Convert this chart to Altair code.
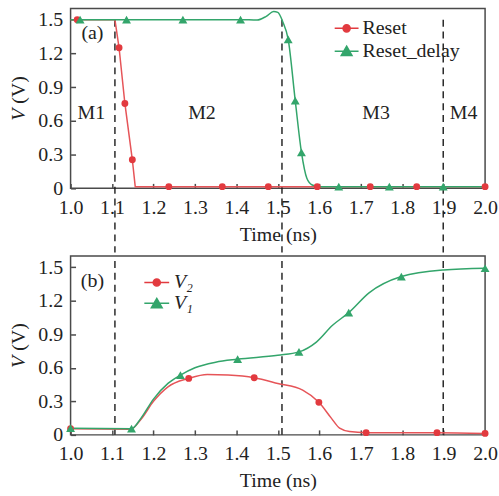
import altair as alt
import pandas as pd

RED = "#e23a3f"
RED_LINE = "#e65458"
GREEN = "#33a56b"
FRAME = "#4a4a4a"
INK = "#222222"
FONT = "Liberation Serif"

W, H_A, H_B = 417, 181, 180
Y_DOMAIN = [0, 1.6]

x_ticks = [1.0, 1.1, 1.2, 1.3, 1.4, 1.5, 1.6, 1.7, 1.8, 1.9, 2.0]
y_ticks = [0, 0.3, 0.6, 0.9, 1.2, 1.5]

# ---- panel (a): Reset and Reset_delay ----
reset_name, delay_name = "Reset", "Reset_delay"
reset_line_t = [1.0, 1.016, 1.107, 1.117, 1.131, 1.149, 1.156, 1.237, 1.366, 1.477, 1.595, 1.723, 1.835, 2.0]
reset_line_v = [1.5, 1.5, 1.5, 1.25, 0.755, 0.254, 0.015, 0.015, 0.015, 0.015, 0.015, 0.015, 0.015, 0.015]
reset_mark_t = [1.016, 1.117, 1.131, 1.149, 1.237, 1.366, 1.477, 1.595, 1.723, 1.835, 2.0]
reset_mark_v = [1.5, 1.25, 0.755, 0.254, 0.015, 0.015, 0.015, 0.015, 0.015, 0.015, 0.015]

delay_line_t = [1.0, 1.023, 1.135, 1.271, 1.41, 1.45, 1.472, 1.49, 1.5, 1.512, 1.525, 1.542, 1.557,
                1.57, 1.583, 1.6, 1.647, 1.769, 1.899, 2.0]
delay_line_v = [1.5, 1.5, 1.5, 1.5, 1.5, 1.497, 1.53, 1.572, 1.565, 1.48, 1.325, 0.78, 0.32,
                0.09, 0.03, 0.015, 0.015, 0.015, 0.015, 0.015]
delay_mark_t = [1.023, 1.135, 1.271, 1.41, 1.525, 1.542, 1.557, 1.647, 1.769, 1.899]
delay_mark_v = [1.5, 1.5, 1.5, 1.5, 1.325, 0.78, 0.32, 0.015, 0.015, 0.015]

# ---- panel (b): V2 and V1 ----
v2_name, v1_name = "V\u2082", "V\u2081"
v2_line_t = [1.0, 1.145, 1.17, 1.2, 1.235, 1.285, 1.33, 1.38, 1.443, 1.5, 1.56, 1.599, 1.629, 1.649,
             1.673, 1.713, 1.884, 2.0]
v2_line_v = [0.055, 0.05, 0.14, 0.3, 0.43, 0.505, 0.54, 0.535, 0.511, 0.46, 0.40, 0.291, 0.15, 0.06,
             0.03, 0.02, 0.02, 0.013]
v2_mark_t = [1.0, 1.285, 1.443, 1.599, 1.713, 1.884, 2.0]
v2_mark_v = [0.055, 0.505, 0.511, 0.291, 0.02, 0.02, 0.013]

v1_line_t = [1.0, 1.147, 1.17, 1.2, 1.235, 1.265, 1.3, 1.35, 1.403, 1.5, 1.551, 1.593, 1.632, 1.671,
             1.72, 1.798, 1.9, 2.0]
v1_line_v = [0.06, 0.055, 0.15, 0.32, 0.46, 0.534, 0.6, 0.65, 0.677, 0.712, 0.742, 0.83, 0.98, 1.093,
             1.27, 1.416, 1.475, 1.49]
v1_mark_t = [1.0, 1.147, 1.265, 1.403, 1.551, 1.671, 1.798, 2.0]
v1_mark_v = [0.06, 0.055, 0.534, 0.677, 0.742, 1.093, 1.416, 1.49]

# mode boundaries and region labels
boundary_t = [1.107, 1.51, 1.899]
region_names = ["M1", "M2", "M3", "M4"]
region_t = [1.05, 1.317, 1.737, 1.948]
region_v = 0.67


def xscale():
    return alt.Scale(domain=[1.0, 2.0], nice=False, zero=False)


def yscale():
    return alt.Scale(domain=Y_DOMAIN, nice=False, zero=False)


def df(t, v):
    return pd.DataFrame({"t": t, "v": v})


def line_layer(t, v, color, interp):
    return alt.Chart(df(t, v)).mark_line(color=color, strokeWidth=1.5, interpolate=interp).encode(
        x=alt.X("t:Q", scale=xscale(), axis=None),
        y=alt.Y("v:Q", scale=yscale(), axis=None),
    )


def mark_layer(t, v, color, shape, size):
    return alt.Chart(df(t, v)).mark_point(color=color, filled=True, opacity=1, shape=shape, size=size).encode(
        x=alt.X("t:Q", scale=xscale(), axis=None),
        y=alt.Y("v:Q", scale=yscale(), axis=None),
    )


def axes_layer():
    # labelled axes (no ticks) plus inward-pointing tick axes
    base = alt.Chart(df([1.0], [0.0])).mark_point(opacity=0)
    labelled = base.encode(
        x=alt.X("t:Q", scale=xscale(), axis=alt.Axis(
            values=x_ticks, format=".1f", ticks=False, domain=False, grid=False,
            labelFlush=False, labelOverlap=False,
            title="Time (ns)", labelPadding=9, titlePadding=7)),
        y=alt.Y("v:Q", scale=yscale(), axis=alt.Axis(
            values=y_ticks, labelExpr="datum.value == 0 ? '0' : format(datum.value, '.1f')",
            labelFlush=False, labelOverlap=False,
            ticks=False, domain=False, grid=False, title=None, labelPadding=8)),
    )
    ticks = base.encode(
        x=alt.X("t:Q", scale=xscale(), axis=alt.Axis(
            orient="bottom", values=x_ticks, labels=False, domain=False, grid=False, ticks=True,
            tickSize=5, tickWidth=1.5, tickColor=FRAME, offset=-5, title=None)),
        y=alt.Y("v:Q", scale=yscale(), axis=alt.Axis(
            orient="left", values=y_ticks, labels=False, domain=False, grid=False, ticks=True,
            tickSize=5, tickWidth=1.5, tickColor=FRAME, offset=-5, title=None)),
    )
    return labelled, ticks


def boundary_layer(y_from, y_to):
    return alt.Chart(pd.DataFrame({"t": boundary_t})).mark_rule(
        color="#1a1a1a", strokeWidth=1.4, strokeDash=[7, 5]).encode(
        x=alt.X("t:Q", scale=xscale(), axis=None),
        y=alt.YDatum(y_from, scale=yscale(), axis=None),
        y2=alt.Y2Datum(y_to),
    )


def legend_layer(key, names, colors, paths, size, lx, ly, offset, italic):
    lg = alt.Legend(
        orient="none", legendX=lx, legendY=ly, title=None, padding=0, rowPadding=0,
        symbolSize=size, symbolStrokeWidth=1.5, symbolOpacity=1, labelOffset=offset,
        labelFont=FONT, labelFontSize=20, labelColor=INK, labelLimit=300,
        labelFontStyle="italic" if italic else "normal",
    )
    return alt.Chart(pd.DataFrame({key: names})).mark_point(opacity=0).encode(
        fill=alt.Fill(f"{key}:N", scale=alt.Scale(domain=names, range=colors), legend=lg),
        stroke=alt.Stroke(f"{key}:N", scale=alt.Scale(domain=names, range=colors), legend=lg),
        shape=alt.Shape(f"{key}:N", scale=alt.Scale(domain=names, range=paths), legend=lg),
    )


def ytitle_layers(height):
    mid = height / 2
    v_txt = alt.Chart(pd.DataFrame({"s": ["V"]})).mark_text(
        font=FONT, fontSize=20, fontStyle="italic", angle=270, align="center", baseline="middle",
        color=INK).encode(text="s:N", x=alt.value(-52), y=alt.value(mid + 16.5))
    unit_txt = alt.Chart(pd.DataFrame({"s": ["(V)"]})).mark_text(
        font=FONT, fontSize=20, angle=270, align="center", baseline="middle",
        color=INK).encode(text="s:N", x=alt.value(-52), y=alt.value(mid - 8.5))
    return v_txt, unit_txt


def tag_layer(tag):
    return alt.Chart(pd.DataFrame({"s": [tag]})).mark_text(
        font=FONT, fontSize=20, align="center", baseline="middle", color=INK).encode(
        text="s:N", x=alt.value(22), y=alt.value(25))


# ---------- panel (a) ----------
lab_a, tick_a = axes_layer()
yv_a, yu_a = ytitle_layers(H_A)
regions = alt.Chart(pd.DataFrame({"t": region_t, "name": region_names})).mark_text(
    font=FONT, fontSize=20, align="center", baseline="middle", color=INK).encode(
    x=alt.X("t:Q", scale=xscale(), axis=None),
    y=alt.YDatum(region_v, scale=yscale(), axis=None),
    text="name:N",
)

circle_path_a = "M-1,0H1M-0.3,0A0.3,0.3,0,1,1,0.3,0A0.3,0.3,0,1,1,-0.3,0Z"
tri_path_a = "M-1,0H1M0,-0.42L0.45,0.36L-0.45,0.36Z"

panel_a = alt.layer(
    lab_a, tick_a,
    boundary_layer(1.5, -0.57),
    line_layer(reset_line_t, reset_line_v, RED_LINE, "linear"),
    line_layer(delay_line_t, delay_line_v, GREEN, "monotone"),
    mark_layer(reset_mark_t, reset_mark_v, RED, "circle", 48),
    mark_layer(delay_mark_t, delay_mark_v, GREEN, "triangle-up", 80),
    regions, tag_layer("(a)"), yv_a, yu_a,
    legend_layer("key_a", [reset_name, delay_name], [RED, GREEN], [circle_path_a, tri_path_a],
                 576, 264.7, 7, 3, False),
).resolve_axis(x="independent", y="independent").properties(width=W, height=H_A)

# ---------- panel (b) ----------
lab_b, tick_b = axes_layer()
yv_b, yu_b = ytitle_layers(H_B)

circle_path_b = "M-1.25,0H1.25M-0.36,0A0.36,0.36,0,1,1,0.36,0A0.36,0.36,0,1,1,-0.36,0Z"
tri_path_b = "M-1.25,0H1.25M0,-0.5L0.54,0.43L-0.54,0.43Z"

panel_b = alt.layer(
    lab_b, tick_b,
    boundary_layer(0, 1.6),
    line_layer(v2_line_t, v2_line_v, RED_LINE, "monotone"),
    line_layer(v1_line_t, v1_line_v, GREEN, "monotone"),
    mark_layer(v2_mark_t, v2_mark_v, RED, "circle", 48),
    mark_layer(v1_mark_t, v1_mark_v, GREEN, "triangle-up", 80),
    tag_layer("(b)"), yv_b, yu_b,
    legend_layer("key_b", [v2_name, v1_name], [RED, GREEN], [circle_path_b, tri_path_b],
                 400, 75.7, 15.7, 6.3, True),
).resolve_axis(x="independent", y="independent").properties(width=W, height=H_B)

chart = alt.vconcat(panel_a, panel_b, spacing=0).resolve_scale(
    fill="independent", stroke="independent", shape="independent"
).properties(
    padding={"left": 8, "top": 6, "right": 0, "bottom": 2},
    background="white",
).configure_view(
    stroke=FRAME, strokeWidth=1.5
).configure_axis(
    labelFont=FONT, labelFontSize=20, labelColor=INK,
    titleFont=FONT, titleFontSize=20, titleFontWeight="normal", titleColor=INK,
)

chart.save("out.html", embed_options={"renderer": "svg", "actions": False})
